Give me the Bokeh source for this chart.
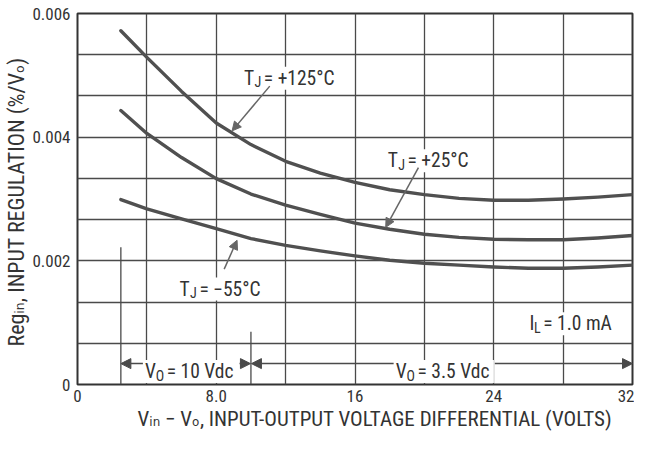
from bokeh.plotting import figure
from bokeh.models import FixedTicker, Label, Arrow, NormalHead, Range1d, Title
from bokeh.embed import file_html
from bokeh.resources import INLINE

# ---------------- data ----------------
vdiff = [2.5, 4, 6, 8, 10, 12, 14, 16, 18, 20, 22, 24, 26, 28, 30, 32]
reg_125 = [0.00572, 0.00529, 0.00474, 0.00423, 0.00388, 0.00361, 0.00342, 0.00327,
           0.00315, 0.00307, 0.00301, 0.00298, 0.00298, 0.00300, 0.00303, 0.00307]
reg_25 = [0.00443, 0.00406, 0.00367, 0.00333, 0.00308, 0.00290, 0.00275, 0.00261,
          0.00251, 0.00243, 0.00238, 0.00235, 0.00234, 0.00234, 0.00237, 0.00241]
reg_m55 = [0.00299, 0.00284, 0.00268, 0.00252, 0.00236, 0.00225, 0.00216, 0.00208,
           0.00201, 0.00196, 0.00193, 0.00190, 0.00188, 0.00188, 0.00190, 0.00193]

x_ticks = [0, 8, 16, 24, 32]
x_tick_labels = ["0", "8.0", "16", "24", "32"]
y_ticks = [0, 0.002, 0.004, 0.006]
y_tick_labels = ["0", "0.002", "0.004", "0.006"]
x_grid = [4, 8, 12, 16, 20, 24, 28]
y_grid = [0.000667, 0.001333, 0.002, 0.002667, 0.003333, 0.004, 0.004667, 0.005333]

vo_change = [2.5, 10, 32]   # V_O = 10 Vdc from 2.5 to 10 V, 3.5 Vdc from 10 to 32 V

x_title = "V\u1d62\u2099 \u2212 V\u2092, INPUT-OUTPUT VOLTAGE DIFFERENTIAL (VOLTS)"
y_title = "Reg\u1d62\u2099, INPUT REGULATION (%/V\u2092)"

# ---------------- styling ----------------
FONT = "'Roboto Condensed', 'Liberation Sans Narrow', 'DejaVu Sans Condensed', sans-serif"
TXT = "#333333"
GRID = "#4a4a4a"
CURVE = "#505050"
ARC = "#666666"

FRAME_L, FRAME_T, FRAME_W, FRAME_H = 77, 13, 555, 371
SX = FRAME_W / 32.0          # screen px per x unit
SY = FRAME_H / 0.006         # screen px per y unit

# reference-picture pixel -> data helpers (reference frame: x 79..639, y 15..388)
def rx(px):
    return (px - 79.0) / 560.0 * 32.0
def ry(py):
    return (388.0 - py) / 373.0 * 0.006

AW = {' ': 248, '%': 733, '(': 342, ')': 348, '+': 566, ',': 196, '-': 276, '.': 263,
      '/': 412, '=': 549, 'A': 652, 'C': 652, 'D': 655, 'E': 568, 'F': 553, 'G': 681,
      'I': 272, 'J': 552, 'L': 539, 'N': 713, 'O': 688, 'P': 632, 'R': 616, 'S': 593,
      'T': 614, 'U': 648, 'V': 637, 'a': 544, 'c': 523, 'd': 547, 'e': 530, 'g': 561,
      'i': 243, 'm': 875, 'n': 551, '\u00b0': 377, '\u2212': 566}
def tw(s, size):
    return sum(AW.get(c, 562) for c in s) * 0.88 * size / 1000.0

p = figure(frame_width=FRAME_W, frame_height=FRAME_H,
           x_range=Range1d(0, 32), y_range=Range1d(0, 0.006),
           output_backend="svg", toolbar_location=None,
           min_border_left=FRAME_L, min_border_right=2, min_border_top=FRAME_T,
           min_border_bottom=434 - FRAME_T - FRAME_H)
p.background_fill_color = "white"
p.border_fill_color = "white"
p.outline_line_color = "#333333"
p.outline_line_width = 2

p.xaxis.ticker = FixedTicker(ticks=x_ticks)
p.yaxis.ticker = FixedTicker(ticks=y_ticks)
p.xaxis.major_label_overrides = {t: l for t, l in zip(x_ticks, x_tick_labels)}
p.yaxis.major_label_overrides = {t: l for t, l in zip(y_ticks, y_tick_labels)}
for ax in (p.xaxis[0], p.yaxis[0]):
    ax.axis_line_color = None
    ax.major_tick_line_color = None
    ax.minor_tick_line_color = None
    ax.major_tick_out = 0
    ax.major_tick_in = 0
    ax.major_label_text_font = FONT
    ax.major_label_text_font_size = "17px"
    ax.major_label_text_color = TXT
p.xaxis.major_label_standoff = 5
p.yaxis.major_label_standoff = 7

p.add_layout(Title(text=x_title, text_font=FONT, text_font_size="21px",
                   text_font_style="normal", text_color=TXT, align="left",
                   offset=60, standoff=0), "below")
p.add_layout(Title(text=y_title, text_font=FONT, text_font_size="22px",
                   text_font_style="normal", text_color=TXT, align="left",
                   offset=38, standoff=2), "left")

p.xgrid.ticker = FixedTicker(ticks=x_grid)
p.ygrid.ticker = FixedTicker(ticks=y_grid)
for g in (p.xgrid[0], p.ygrid[0]):
    g.grid_line_color = GRID
    g.grid_line_width = 1.3

# V_O boundary marker lines
p.add_layout(Arrow(end=None, x_start=vo_change[0], y_start=ry(250), x_end=vo_change[0], y_end=0,
                   line_color=GRID, line_width=1.3))
p.add_layout(Arrow(end=None, x_start=vo_change[1], y_start=ry(335), x_end=vo_change[1], y_end=0,
                   line_color=GRID, line_width=1.3))

# curves
for ys in (reg_125, reg_25, reg_m55):
    p.line(vdiff, ys, line_width=3.4, line_color=CURVE, line_join="round", line_cap="round")

def rich(px, py, pieces, size=19.5, sub=14, drop=4, bg="white"):
    """Place text pieces (normal / subscript) starting at reference pixel (px, py)."""
    x0, y0 = rx(px), ry(py)
    pos = 0.0
    for txt, is_sub in pieces:
        fs = sub if is_sub else size
        d = drop if is_sub else 0
        p.add_layout(Label(x=x0 + pos / SX, y=y0 - d / SY, text=txt, text_font=FONT,
                           text_font_size=f"{fs}px", text_color=TXT,
                           text_baseline="alphabetic", text_align="left",
                           background_fill_color=(None if is_sub else bg)))
        pos += tw(txt, fs) + (2.5 if is_sub else 0)
    return pos / SX   # width in data units

# temperature / load labels
rich(247, 80, [("T", 0), ("J", 1), (" = +125\u00b0C", 0)])
rich(392, 163, [("T", 0), ("J", 1), (" = +25\u00b0C", 0)])
rich(182, 292, [("T", 0), ("J", 1), (" = \u221255\u00b0C", 0)])
rich(535, 327, [("I", 0), ("L", 1), (" = 1.0 mA", 0)])

def arrow(x0, y0, x1, y1, size=9, color=ARC, lw=1.5):
    p.add_layout(Arrow(end=NormalHead(size=size, fill_color=color, line_color=color),
                       x_start=x0, y_start=y0, x_end=x1, y_end=y1,
                       line_color=color, line_width=lw))

arrow(rx(273), ry(88), rx(235), ry(133))
arrow(rx(423), ry(170), rx(390), ry(230))
arrow(rx(227), ry(272), rx(240), ry(243))

# V_O range annotations
VO_Y = ry(367)
w10 = rich(147, 375, [("V", 0), ("O", 1), (" = 10 Vdc", 0)])
w35 = rich(400, 375, [("V", 0), ("O", 1), (" = 3.5 Vdc", 0)])
gap = 2.0 / SX
arrow(rx(147) - gap, VO_Y, vo_change[0], VO_Y, size=10, color=GRID)
arrow(rx(147) + w10 + gap, VO_Y, vo_change[1] - 0.5 / SX, VO_Y, size=10, color=GRID)
arrow(rx(400) - gap, VO_Y, vo_change[1] + 0.5 / SX, VO_Y, size=10, color=GRID)
arrow(rx(400) + w35 + gap, VO_Y, vo_change[2], VO_Y, size=10, color=GRID)

open("out.html", "w").write(file_html(p, INLINE))
